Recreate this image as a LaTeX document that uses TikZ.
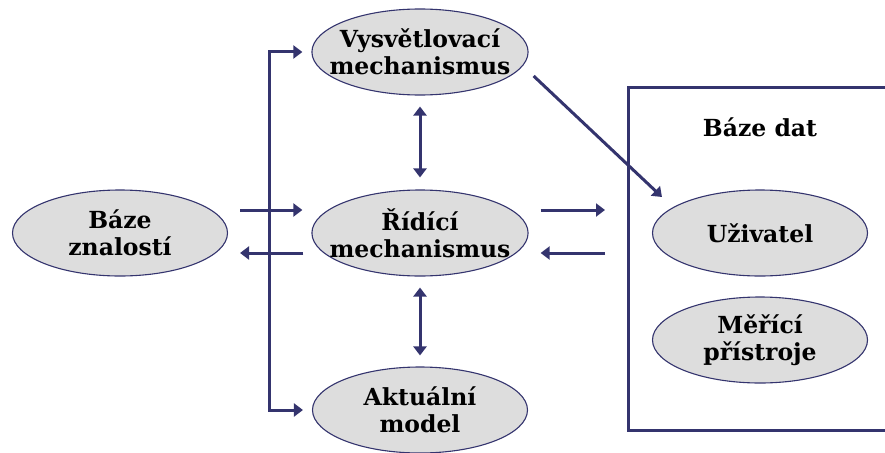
\documentclass[tikz,border=0pt]{standalone}
\usepackage{fontspec}
\setmainfont{DejaVu Serif}
\usetikzlibrary{positioning,shapes.geometric,arrows.meta}

\definecolor{navy}{HTML}{34346E}
\definecolor{ovalgrey}{HTML}{DDDDDD}

\tikzset{
  oval/.style={ellipse, draw=navy, line width=1.1pt, fill=ovalgrey,
    minimum width=215pt, minimum height=86pt, inner xsep=-14pt, inner ysep=-2pt,
    align=center, font=\fontsize{23.5}{27}\selectfont\bfseries},
  flow/.style={draw=navy, line width=3pt, -{Triangle[length=9pt,width=13pt]}},
  dflow/.style={draw=navy, line width=3pt, {Triangle[length=9pt,width=13pt]}-{Triangle[length=9pt,width=13pt]}}
}

\begin{document}
\begin{tikzpicture}[x=1pt,y=-1pt]
\useasboundingbox (0,0) rectangle (885,452);
% nodes
\node[oval] (vysv) at (420,52) {Vysvětlovací\\mechanismus};
\node[oval] (baze) at (120,233) {Báze\\znalostí};
\node[oval] (ridici) at (420,233) {Řídící\\mechanismus};
\node[oval] (aktual) at (420,410) {Aktuální\\model};
\node[oval] (uziv) at (760,233) {Uživatel};
\node[oval] (meric) at (760,340) {Měřící\\přístroje};
\node[font=\fontsize{23.5}{27}\selectfont\bfseries] (bdat) at (760,127) {Báze dat};
% database frame, open to the right
\draw[navy, line width=3pt] (890,87) -| (628,430) -- (890,430);
\coordinate (dbleft) at (628,233);
\coordinate (split) at (269,233);
% connectors
\draw[flow, shorten >=9pt] (split) |- (vysv.west);
\draw[flow, shorten >=9pt] (split) |- (aktual.west);
\draw[flow, shorten <=12pt, shorten >=9pt] ([yshift=23pt]baze.east) -- ([yshift=23pt]ridici.west);
\draw[flow, shorten <=8pt, shorten >=12pt] ([yshift=-20pt]ridici.west) -- ([yshift=-20pt]baze.east);
\draw[dflow, shorten <=11pt, shorten >=12pt] (vysv) -- (ridici);
\draw[dflow, shorten <=11pt, shorten >=11pt] (ridici) -- (aktual);
\draw[flow, shorten <=12pt, shorten >=23pt] ([yshift=23pt]ridici.east) -- ([yshift=23pt]dbleft);
\draw[flow, shorten <=23pt, shorten >=12pt] ([yshift=-20pt]dbleft) -- ([yshift=-20pt]ridici.east);
\draw[flow] ([xshift=5pt,yshift=-24pt]vysv.east) -- ([xshift=10pt,yshift=36pt]uziv.west);
\end{tikzpicture}
\end{document}
